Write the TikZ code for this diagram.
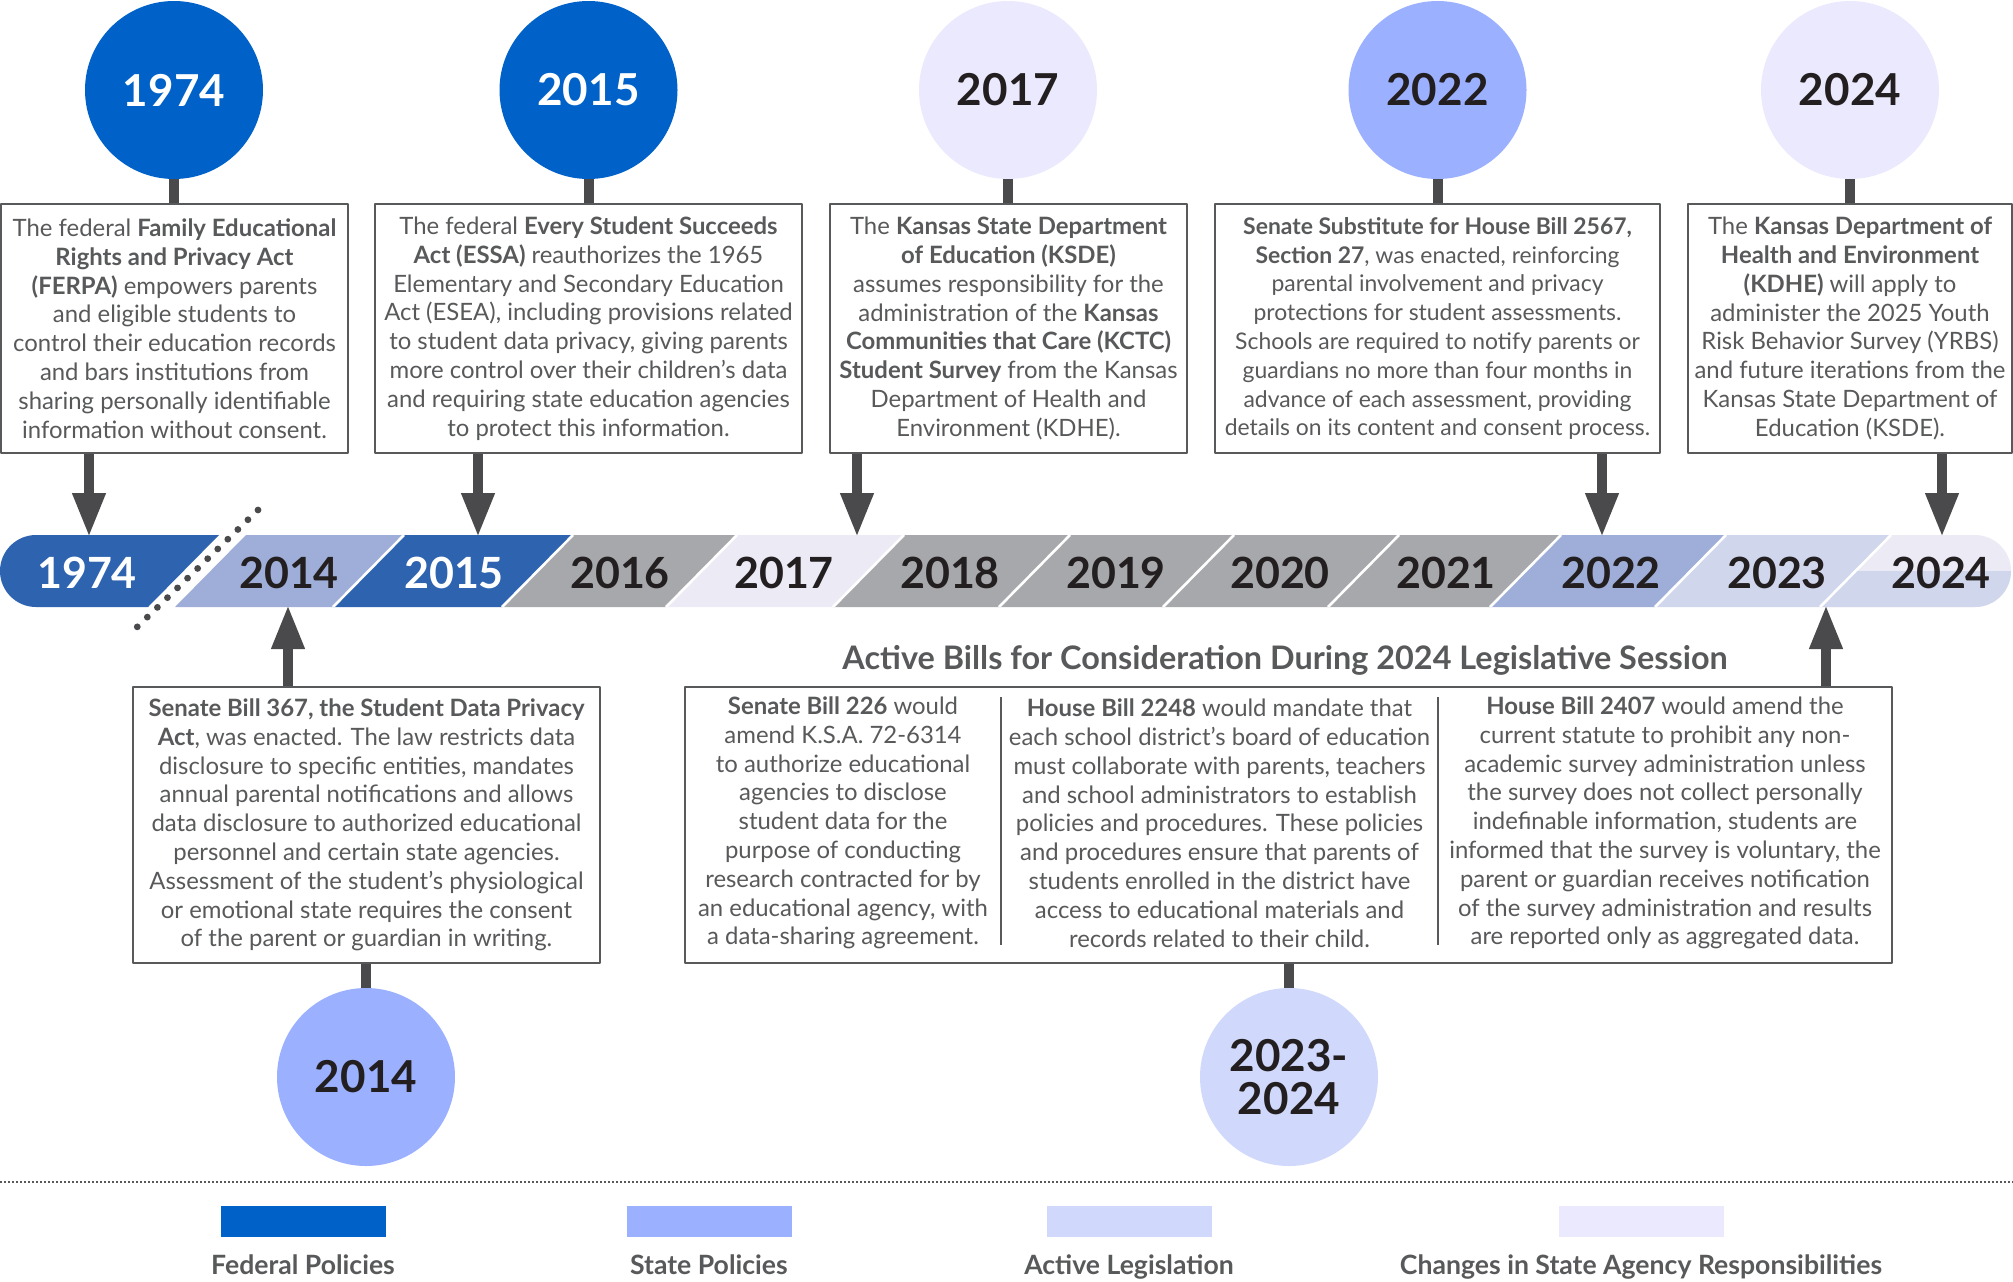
\documentclass[tikz,border=0pt]{standalone}
\usepackage{fontspec}
\setmainfont{Lato}
\usepackage{xcolor}
\usetikzlibrary{positioning,calc,arrows.meta}

\definecolor{fedblue}{RGB}{0,98,200}
\definecolor{stateblue}{RGB}{155,176,255}
\definecolor{activeblue}{RGB}{208,217,251}
\definecolor{agencylav}{RGB}{235,233,253}
\definecolor{bandfed}{RGB}{46,99,176}
\definecolor{bandstate}{RGB}{158,174,216}
\definecolor{bandactive}{RGB}{208,214,236}
\definecolor{bandlav}{RGB}{236,234,245}
\definecolor{bandgray}{RGB}{167,168,171}
\definecolor{stemgray}{RGB}{74,74,76}
\definecolor{txtgray}{RGB}{88,89,91}
\definecolor{digitblack}{RGB}{35,31,32}

\begin{document}
\begin{tikzpicture}[x=0.5pt,y=-0.5pt, line join=round,
		yearcirc/.style={circle, minimum size=89pt, inner sep=0pt,
			font=\fontsize{22}{21.5}\selectfont\bfseries, text=digitblack},
		infobox/.style={draw=txtgray, line width=1pt, fill=white, inner sep=0pt, align=center,
			text=txtgray, font=\fontsize{11.95}{14.4}\selectfont},
		coltext/.style={inner sep=0pt, align=center, text=txtgray, font=\fontsize{11.95}{14.4}\selectfont},
		stem/.style={draw=stemgray, line width=5pt},
		pointer/.style={stem, -{Triangle[length=22pt,width=15.5pt]}},
		bandlbl/.style={font=\fontsize{21.5}{21.5}\selectfont\bfseries, text=digitblack},
		legbox/.style={minimum width=82.5pt, minimum height=15.5pt, inner sep=0pt},
		leglbl/.style={anchor=base, font=\fontsize{13.3}{14}\selectfont\bfseries, text=txtgray}]
	
	\useasboundingbox (0,0) rectangle (2013,1281);
	
	% ---- parameters
	\def\bTop{535}
	\def\bBot{607}
	\def\slant{71}
	
	% ---- top year circles
	\node[yearcirc, fill=fedblue, text=white] (c1974) at (174,90) {1974};
	\node[yearcirc, fill=fedblue, text=white] (c2015) at (588.5,90) {2015};
	\node[yearcirc, fill=agencylav] (c2017) at (1008,90) {2017};
	\node[yearcirc, fill=stateblue] (c2022) at (1437.5,90) {2022};
	\node[yearcirc, fill=agencylav] (c2024) at (1850,90) {2024};
	
	% ---- top text boxes
	\node[infobox, minimum width=173.5pt, minimum height=124.5pt] (b1974) at (174.5,328.5)
	{The federal \textbf{Family Educational}\\
		\textbf{Rights and Privacy Act}\\
		\textbf{(FERPA)} empowers parents\\
		and eligible students to\\
		control their education records\\
		and bars institutions from\\
		sharing personally identifiable\\
		information without consent.};
	\node[infobox, minimum width=213.5pt, minimum height=124.5pt] (b2015) at (588.5,328.5)
	{The federal \textbf{Every Student Succeeds}\\
		\textbf{Act (ESSA)} reauthorizes the 1965\\
		Elementary and Secondary Education\\
		Act (ESEA), including provisions related\\
		to student data privacy, giving parents\\
		more control over their children’s data\\
		and requiring state education agencies\\
		to protect this information.};
	\node[infobox, minimum width=178.5pt, minimum height=124.5pt] (b2017) at (1008.5,328.5)
	{The \textbf{Kansas State Department}\\
		\textbf{of Education (KSDE)}\\
		assumes responsibility for the\\
		administration of the \textbf{Kansas}\\
		\textbf{Communities that Care (KCTC)}\\
		\textbf{Student Survey} from the Kansas\\
		Department of Health and\\
		Environment (KDHE).};
	\node[infobox, minimum width=222.5pt, minimum height=124.5pt,
		font=\fontsize{11.45}{14.4}\selectfont] (b2022) at (1437.5,328.5)
	{\textbf{Senate Substitute for House Bill 2567,}\\
		\textbf{Section 27}, was enacted, reinforcing\\
		parental involvement and privacy\\
		protections for student assessments.\\
		Schools are required to notify parents or\\
		guardians no more than four months in\\
		advance of each assessment, providing\\
		details on its content and consent process.};
	\node[infobox, minimum width=162pt, minimum height=124.5pt] (b2024) at (1850,328.5)
	{The \textbf{Kansas Department of}\\
		\textbf{Health and Environment}\\
		\textbf{(KDHE)} will apply to\\
		administer the 2025 Youth\\
		Risk Behavior Survey (YRBS)\\
		and future iterations from the\\
		Kansas State Department of\\
		Education (KSDE).};
	
	% circle -> box stems
	\foreach \y in {1974,2015,2017,2022,2024}{
		\draw[stem] (c\y.south) -- (b\y.north -| c\y.south);
	}
	
	% ---- timeline band
	\begin{scope}
		\clip[rounded corners=18] (0,\bTop) rectangle (2011,\bBot);
		\foreach \l/\r/\c in {-100/219/bandfed, 246/404/bandstate, 404/573/bandfed,
			573/737/bandgray, 737/904/bandlav, 904/1070/bandgray, 1070/1234/bandgray,
			1234/1399/bandgray, 1399/1561/bandgray, 1561/1726/bandstate,
			1726/1891/bandactive, 1891/2100/bandlav}{
			\fill[\c] (\l,\bTop) -- (\r,\bTop) -- ({\r-\slant},\bBot) -- ({\l-\slant},\bBot) -- cycle;
		}
		% 2024: lower half still active legislation
		\fill[bandactive] ({1891-\slant/2},571) -- (2100,571) -- (2100,\bBot) -- ({1891-\slant},\bBot) -- cycle;
		\foreach \s in {404,573,737,904,1070,1234,1399,1561,1726,1891}{
			\draw[white, line width=1.3pt] (\s,\bTop) -- ({\s-\slant},\bBot);
		}
	\end{scope}
	
	% dotted break between 1974 and 2014
	\draw[stemgray, line width=3.4pt, line cap=round, dash pattern=on 0pt off 7pt] (258,510) -- (134,630);
	
	% year labels on the band
	\foreach \x/\y/\t in {87/1974/white, 289/2014/digitblack, 454/2015/white, 620/2016/digitblack,
		784/2017/digitblack, 950/2018/digitblack, 1116/2019/digitblack, 1280/2020/digitblack,
		1446/2021/digitblack, 1611/2022/digitblack, 1777/2023/digitblack, 1941/2024/digitblack}{
		\node[bandlbl, text=\t] (y\y) at (\x,573) {\y};
	}
	
	% ---- pointers into the band
	\coordinate (t1974) at (89,537);
	\coordinate (t2015) at (478,537);
	\coordinate (t2017) at (857,537);
	\coordinate (t2022) at (1602,537);
	\coordinate (t2024) at (1942,537);
	\coordinate (t2014) at (288,605);
	\coordinate (t2023) at (1826,605);
	
	\foreach \y in {1974,2015,2017,2022,2024}{
		\draw[pointer] (b\y.south -| t\y) -- (t\y);
	}
	
	% ---- lower part
	\node[infobox, minimum width=233.5pt, minimum height=138pt] (b2014) at (366.5,825)
	{\textbf{Senate Bill 367, the Student Data Privacy}\\
		\textbf{Act}, was enacted. The law restricts data\\
		disclosure to specific entities, mandates\\
		annual parental notifications and allows\\
		data disclosure to authorized educational\\
		personnel and certain state agencies.\\
		Assessment of the student’s physiological\\
		or emotional state requires the consent\\
		of the parent or guardian in writing.};
	
	\node[font=\fontsize{16.2}{17}\selectfont\bfseries, text=txtgray] (billtitle) at (1285,660)
	{Active Bills for Consideration During 2024 Legislative Session};
	
	\node[infobox, minimum width=603.5pt, minimum height=138pt] (bills) at (1288.5,825) {};
	\node[coltext] (sb226) at (843,823)
	{\textbf{Senate Bill 226} would\\
		amend K.S.A. 72-6314\\
		to authorize educational\\
		agencies to disclose\\
		student data for the\\
		purpose of conducting\\
		research contracted for by\\
		an educational agency, with\\
		a data-sharing agreement.};
	\node[coltext] (hb2248) at (1219.5,823)
	{\textbf{House Bill 2248} would mandate that\\
		each school district’s board of education\\
		must collaborate with parents, teachers\\
		and school administrators to establish\\
		policies and procedures. These policies\\
		and procedures ensure that parents of\\
		students enrolled in the district have\\
		access to educational materials and\\
		records related to their child.};
	\node[coltext] (hb2407) at (1665,823)
	{\textbf{House Bill 2407} would amend the\\
		current statute to prohibit any non-\\
		academic survey administration unless\\
		the survey does not collect personally\\
		indefinable information, students are\\
		informed that the survey is voluntary, the\\
		parent or guardian receives notification\\
		of the survey administration and results\\
		are reported only as aggregated data.};
	
	% column rules
	\coordinate (d1) at (1001,697);
	\coordinate (d2) at (1438,697);
	\draw[txtgray, line width=0.6pt] (d1) -- ++(0,248);
	\draw[txtgray, line width=0.6pt] (d2) -- ++(0,248);
	
	\draw[pointer] (b2014.north -| t2014) -- (t2014);
	\draw[pointer] (bills.north -| t2023) -- (t2023);
	
	\node[yearcirc, fill=stateblue] (c2014) at (366,1077) {2014};
	\node[yearcirc, fill=activeblue, align=center] (c2324) at (1289,1077) {2023-\\2024};
	\draw[stem] (b2014.south -| c2014) -- (c2014.north);
	\draw[stem] (bills.south -| c2324) -- (c2324.north);
	
	% ---- legend
	\draw[txtgray, line width=1pt, dash pattern=on 1pt off 1pt] (0,1182) -- (2013,1182);
	
	\foreach \x/\c/\n/\t in {303/fedblue/fed/Federal Policies, 709/stateblue/state/State Policies,
		1129/activeblue/active/Active Legislation,
		1641/agencylav/agency/Changes in State Agency Responsibilities}{
		\node[legbox, fill=\c] (k\n) at (\x,1221.5) {};
		\node[leglbl] (l\n) at (\x,1274) {\t};
	}
	
\end{tikzpicture}
\end{document}
